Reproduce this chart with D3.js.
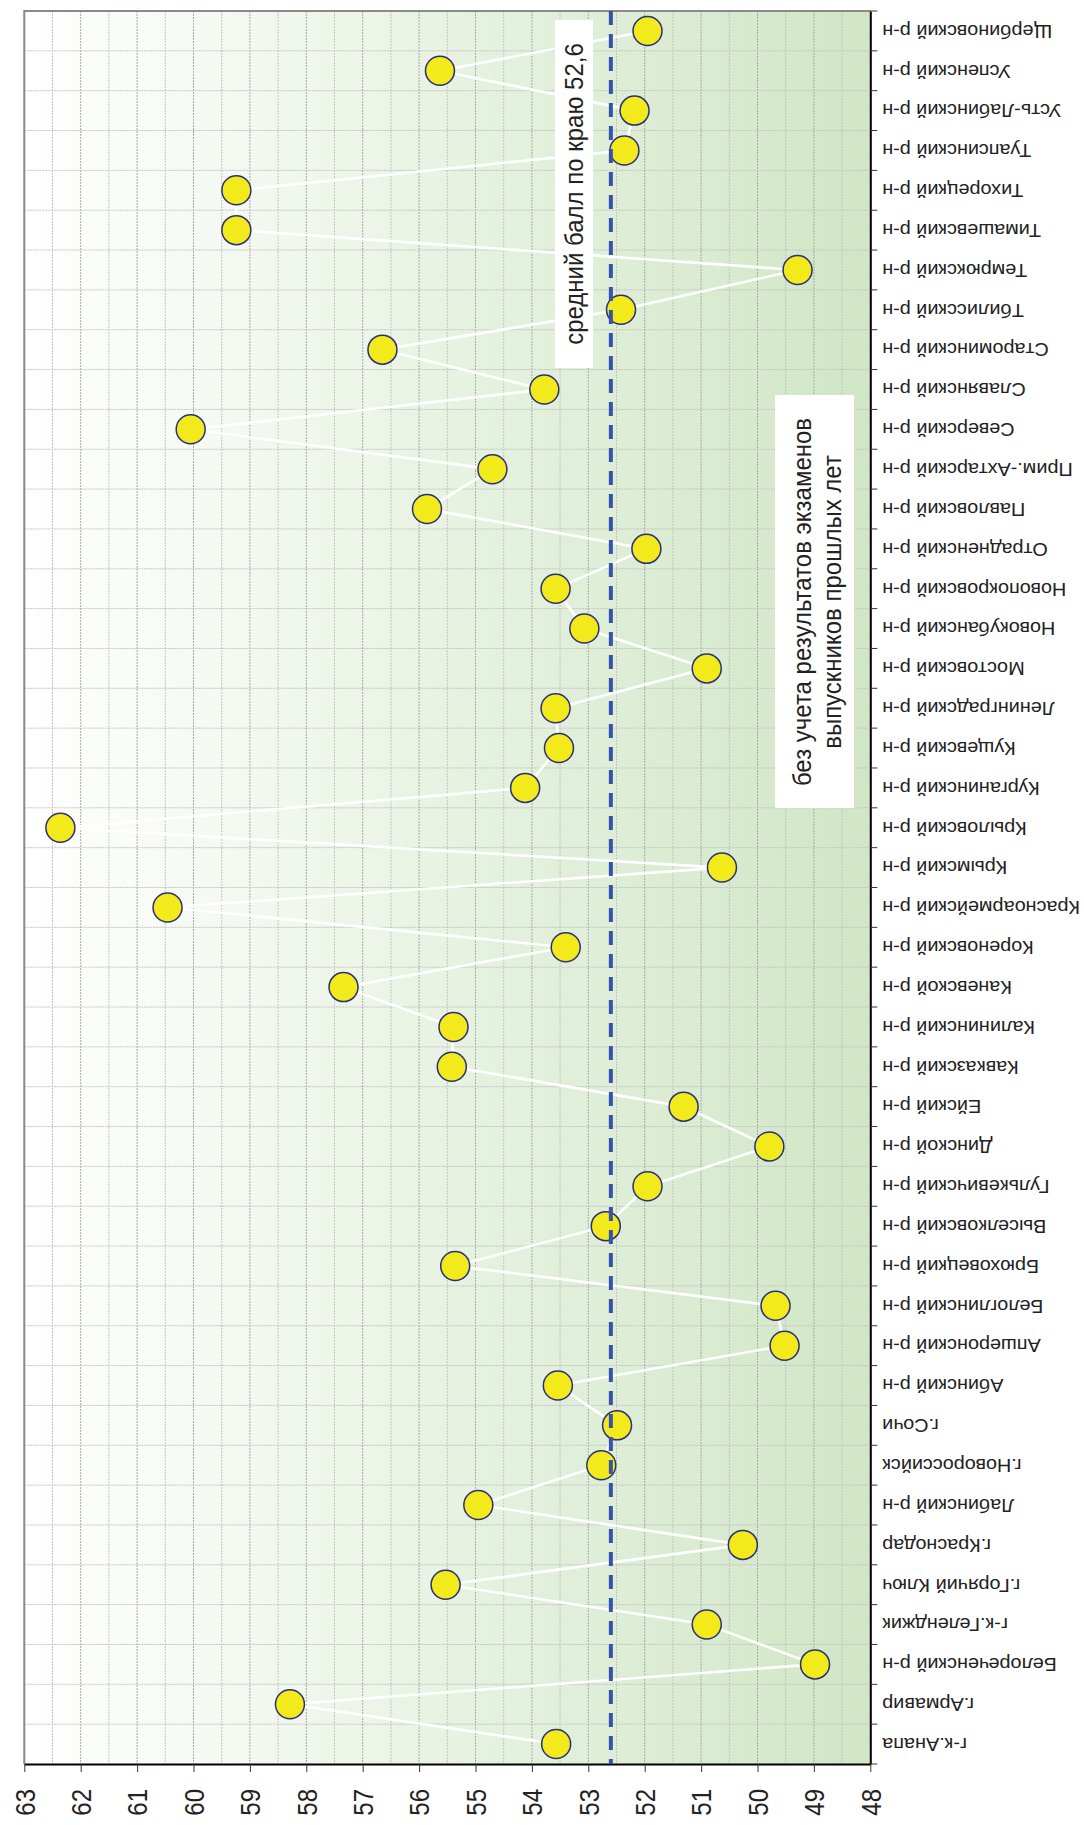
<!DOCTYPE html>
<html><head><meta charset="utf-8">
<script src="https://cdn.jsdelivr.net/npm/d3@7"></script>
<style>
html,body{margin:0;padding:0;background:#fff;}
svg{display:block;font-family:"Liberation Sans",Arial,sans-serif;}
</style></head>
<body>
<svg id="chart" width="1084" height="1825"></svg>
<script>
const categories = ["г-к.Анапа","г.Армавир","Белореченский р-н","г-к.Геленджик","г.Горячий Ключ","г.Краснодар","Лабинский р-н","г.Новороссийск","г.Сочи","Абинский р-н","Апшеронский р-н","Белоглинский р-н","Брюховецкий р-н","Выселковский р-н","Гулькевичский р-н","Динской р-н","Ейский р-н","Кавказский р-н","Калининский р-н","Каневской р-н","Кореновский р-н","Красноармейский р-н","Крымский р-н","Крыловский р-н","Курганинский р-н","Кущевский р-н","Ленинградский р-н","Мостовский р-н","Новокубанский р-н","Новопокровский р-н","Отрадненский р-н","Павловский р-н","Прим.-Ахтарский р-н","Северский р-н","Славянский р-н","Староминский р-н","Тбилисский р-н","Темрюкский р-н","Тимашевский р-н","Тихорецкий р-н","Туапсинский р-н","Усть-Лабинский р-н","Успенский р-н","Щербиновский р-н"];
const scores = [53.57,58.29,48.98,50.9,55.53,50.26,54.95,52.77,52.49,53.54,49.52,49.68,55.36,52.69,51.95,49.79,51.31,55.42,55.39,57.34,53.4,60.46,50.63,62.36,54.12,53.52,53.58,50.9,53.07,53.58,51.97,55.86,54.7,60.05,53.78,56.65,52.42,49.29,59.24,59.24,52.36,52.18,55.63,51.95];
const valueTicks = [63,62,61,60,59,58,57,56,55,54,53,52,51,50,49,48];
const averageScore = 52.6;
const averageLabel = "средний балл по краю 52,6";
const noteLines = ["без учета результатов экзаменов","выпускников прошлых лет"];

const svg = d3.select("#chart");
const L = 24.3, R = 870.3, T = 11, B = 1764;
const x = d3.scaleLinear().domain([63,48]).range([L,R]);
const y = d3.scaleBand().domain(categories).range([B,T]).paddingInner(0).paddingOuter(0);
const bw = y.bandwidth();

const defs = svg.append("defs");
const grad = defs.append("linearGradient").attr("id","bg").attr("x1","0").attr("x2","1").attr("y1","0").attr("y2","0");
grad.append("stop").attr("offset","0").attr("stop-color","#ffffff");
grad.append("stop").attr("offset","1").attr("stop-color","#d0e6c5");

svg.append("rect").attr("x",L).attr("y",T).attr("width",R-L).attr("height",B-T).attr("fill","url(#bg)");

// vertical grid (every 0.5)
const half = d3.range(48,63.01,0.5);
svg.append("g").selectAll("line").data(half).join("line")
  .attr("x1",d=>x(d)).attr("x2",d=>x(d)).attr("y1",T).attr("y2",B)
  .attr("stroke",d=>Number.isInteger(d)?"#a8a8a8":"#c4c4c4").attr("stroke-width",1)
  .attr("stroke-dasharray","2,1");
// horizontal grid at category boundaries
svg.append("g").selectAll("line").data(categories).join("line")
  .attr("x1",L).attr("x2",R).attr("y1",d=>y(d)).attr("y2",d=>y(d))
  .attr("stroke","#c4c4c4").attr("stroke-width",1).attr("stroke-dasharray","2,1");

// plot border (top, left)
svg.append("path").attr("d",`M${L},${B}V${T}H${R}`).attr("fill","none").attr("stroke","#8a8a8a").attr("stroke-width",2);

// bottom axis
const xAxis = d3.axisBottom(x).tickValues(valueTicks).tickSize(8).tickSizeOuter(0).tickFormat(d3.format("d"));
const gx = svg.append("g").attr("transform",`translate(0,${B})`).call(xAxis);
gx.select(".domain").attr("stroke","#000").attr("stroke-width",2);
gx.selectAll(".tick line").attr("stroke","#333").attr("stroke-width",1);
gx.selectAll(".tick text").attr("y",0).attr("dy",null)
  .attr("transform","translate(0,25) scale(1.18,1) rotate(-90)")
  .attr("text-anchor","end").attr("dominant-baseline","central")
  .attr("font-size",24).attr("fill","#222").attr("font-family","'Liberation Sans',Arial,sans-serif");

// right axis (category labels)
const yAxis = d3.axisRight(y).tickSize(0).tickSizeOuter(0);
const gy = svg.append("g").attr("transform",`translate(${R},0)`).call(yAxis);
gy.select(".domain").attr("stroke","#000").attr("stroke-width",2);
gy.selectAll(".tick text").attr("x",0).attr("dy",null)
  .attr("transform","translate(12,0) scale(1.1,1) rotate(180)")
  .attr("text-anchor","end").attr("dominant-baseline","central")
  .attr("font-size",18).attr("fill","#222").attr("font-family","'Liberation Sans',Arial,sans-serif");
// boundary ticks
const bounds = categories.map(c=>y(c)).concat([B]);
svg.append("g").selectAll("line").data(bounds).join("line")
  .attr("x1",R).attr("x2",R+7).attr("y1",d=>d).attr("y2",d=>d)
  .attr("stroke","#333").attr("stroke-width",1);

// connecting line
const pts = categories.map((c,i)=>[x(scores[i]), y(c)+bw/2]);
svg.append("path").attr("d",d3.line()(pts)).attr("fill","none").attr("stroke","#ffffff").attr("stroke-width",2.6);

// points
svg.append("g").selectAll("circle").data(pts).join("circle")
  .attr("cx",d=>d[0]).attr("cy",d=>d[1]).attr("r",14.5)
  .attr("fill","#f2ea1a").attr("stroke","#2b2f7a").attr("stroke-width",1.5);

// average line
svg.append("line").attr("x1",x(averageScore)).attr("x2",x(averageScore)).attr("y1",T).attr("y2",B)
  .attr("stroke","#3452ae").attr("stroke-width",4).attr("stroke-dasharray","14,9");

// average label box
const ax = 574, ay = 194;
svg.append("rect").attr("x",555).attr("y",20).attr("width",38).attr("height",348).attr("fill","#fff");
svg.append("text").attr("transform",`translate(${ax},${ay}) scale(1.1,1) rotate(-90)`)
  .attr("text-anchor","middle").attr("dominant-baseline","central")
  .attr("font-size",24).attr("fill","#222").text(averageLabel);

// note box
svg.append("rect").attr("x",775).attr("y",395).attr("width",79).attr("height",413).attr("fill","#fff");
const nx = [802,832];
noteLines.forEach((t,i)=>{
  svg.append("text").attr("transform",`translate(${nx[i]},602) scale(1.1,1) rotate(-90)`)
    .attr("text-anchor","middle").attr("dominant-baseline","central")
    .attr("font-size",24).attr("fill","#222").text(t);
});
</script>
</body></html>
